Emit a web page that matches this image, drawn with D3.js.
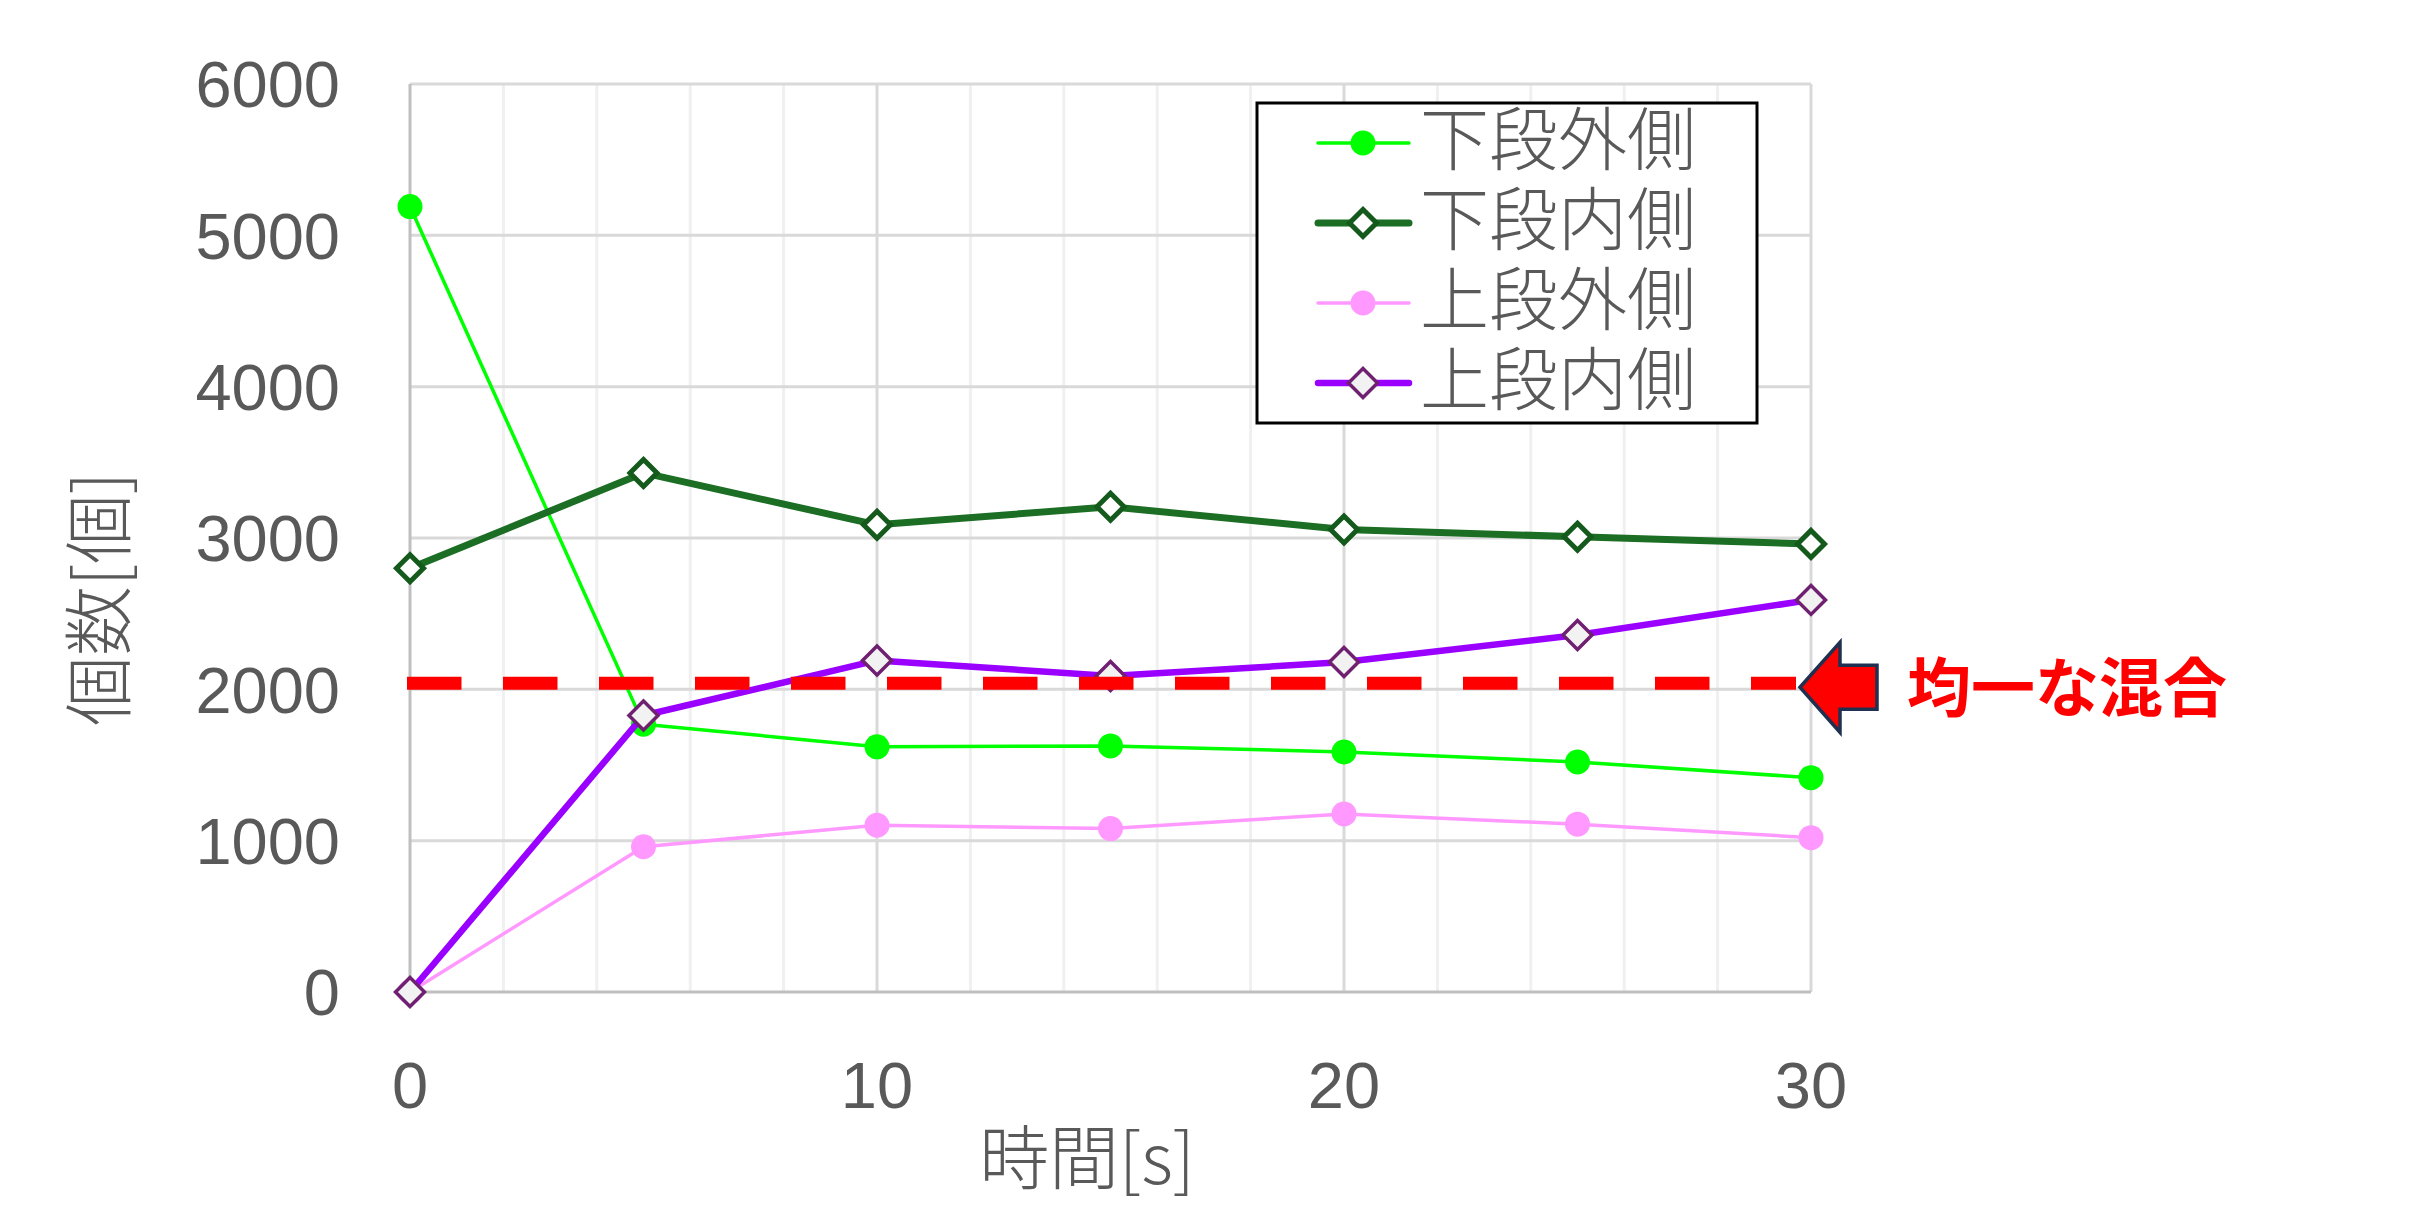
<!DOCTYPE html>
<html lang="ja">
<head>
    <meta charset="UTF-8">
    <title>個数の時間変化</title>
    <script src="https://d3js.org/d3.v7.min.js"></script>
    <style>
        body { margin: 0; background: #fff; }
        .tick-label {
            font-family: "Liberation Sans", Arial, sans-serif;
            font-size: 65px;
            fill: #595959;
        }
        .jp {
            font-family: "Noto Sans CJK JP", sans-serif;
            font-weight: 300;
            fill: #595959;
        }
        .note {
            font-family: "Noto Sans CJK JP", sans-serif;
            font-weight: bold;
            font-size: 64px;
            fill: #ff0000;
        }
    </style>
</head>
<body>
    <svg width="2435" height="1223"></svg>
    <script>
        // 時間[s]
        const times = [0, 5, 10, 15, 20, 25, 30];
        const seriesNames = ["下段外側", "下段内側", "上段外側", "上段内側"];
        const lowerOuter = [5190, 1770, 1620, 1626, 1586, 1520, 1416];
        const lowerInner = [2800, 3430, 3087, 3206, 3056, 3008, 2961];
        const upperOuter = [0, 960, 1102, 1080, 1177, 1109, 1020];
        const upperInner = [0, 1827, 2191, 2088, 2180, 2359, 2591];
        const uniformValue = 2040;
        const uniformLabel = "均一な混合";
        const yTicks = [0, 1000, 2000, 3000, 4000, 5000, 6000];
        const xTicks = [0, 10, 20, 30];

        const styles = [
            { line: "#00ff00", width: 3.5, shape: "circle", fill: "#00ff00", stroke: "none", sw: 0 },
            { line: "#1b6e24", width: 7, shape: "diamond", fill: "#ffffff", stroke: "#155a1d", sw: 5 },
            { line: "#ff99ff", width: 3.5, shape: "circle", fill: "#ff99ff", stroke: "none", sw: 0 },
            { line: "#9900ff", width: 6.5, shape: "diamond", fill: "#f2f2f2", stroke: "#702070", sw: 3.5 }
        ];
        const allValues = [lowerOuter, lowerInner, upperOuter, upperInner];

        const svg = d3.select("svg");
        const x = d3.scaleLinear().domain([0, 30]).range([410, 1811]);
        const y = d3.scaleLinear().domain([0, 6000]).range([992, 84]);

        // gridlines
        const grid = svg.append("g");
        grid.selectAll(".minor")
            .data(d3.range(2, 30, 2).filter(d => d % 10 !== 0))
            .enter().append("line")
            .attr("x1", d => x(d)).attr("x2", d => x(d))
            .attr("y1", y(0)).attr("y2", y(6000))
            .attr("stroke", "#f0f0f0").attr("stroke-width", 3);
        grid.selectAll(".majorx")
            .data([10, 20, 30])
            .enter().append("line")
            .attr("x1", d => x(d)).attr("x2", d => x(d))
            .attr("y1", y(0)).attr("y2", y(6000))
            .attr("stroke", "#d9d9d9").attr("stroke-width", 3);
        grid.selectAll(".majory")
            .data(yTicks.slice(1))
            .enter().append("line")
            .attr("x1", x(0)).attr("x2", x(30))
            .attr("y1", d => y(d)).attr("y2", d => y(d))
            .attr("stroke", "#d9d9d9").attr("stroke-width", 3);
        // axis lines
        grid.append("line")
            .attr("x1", x(0)).attr("x2", x(0)).attr("y1", y(0)).attr("y2", y(6000))
            .attr("stroke", "#bfbfbf").attr("stroke-width", 3);
        grid.append("line")
            .attr("x1", x(0)).attr("x2", x(30)).attr("y1", y(0)).attr("y2", y(0))
            .attr("stroke", "#bfbfbf").attr("stroke-width", 3);

        // tick labels
        svg.selectAll(".ylab")
            .data(yTicks)
            .enter().append("text")
            .attr("class", "tick-label")
            .attr("x", 340)
            .attr("y", d => y(d))
            .attr("dy", "0.36em")
            .attr("text-anchor", "end")
            .text(d => d);
        svg.selectAll(".xlab")
            .data(xTicks)
            .enter().append("text")
            .attr("class", "tick-label")
            .attr("x", d => x(d))
            .attr("y", 1085)
            .attr("dy", "0.36em")
            .attr("text-anchor", "middle")
            .text(d => d);

        // axis titles
        svg.append("text")
            .attr("class", "jp")
            .attr("x", 1087)
            .attr("y", 1153)
            .attr("dominant-baseline", "central")
            .attr("text-anchor", "middle")
            .style("font-size", "70px")
            .text("時間[s]");
        svg.append("text")
            .attr("class", "jp")
            .attr("transform", "translate(94,599) rotate(-90)")
            .attr("dominant-baseline", "central")
            .attr("text-anchor", "middle")
            .style("font-size", "70px")
            .text("個数[個]");

        const diamond = r => `M0,${-r}L${r},0L0,${r}L${-r},0Z`;

        function drawMarker(g, st) {
            if (st.shape === "circle") {
                g.append("circle").attr("r", 12.5).attr("fill", st.fill);
            } else {
                const r = st.sw > 4 ? 13.5 : 14.5;
                g.append("path").attr("d", diamond(r))
                    .attr("fill", st.fill)
                    .attr("stroke", st.stroke)
                    .attr("stroke-width", st.sw)
                    .attr("stroke-linejoin", "miter");
            }
        }

        // series
        const line = d3.line()
            .x((d, i) => x(times[i]))
            .y(d => y(d));
        allValues.forEach((vals, k) => {
            const st = styles[k];
            const g = svg.append("g");
            g.append("path")
                .attr("d", line(vals))
                .attr("fill", "none")
                .attr("stroke", st.line)
                .attr("stroke-width", st.width)
                .attr("stroke-linejoin", "round");
            vals.forEach((v, i) => {
                const m = g.append("g").attr("transform", `translate(${x(times[i])},${y(v)})`);
                drawMarker(m, st);
            });
        });

        // uniform mixing line
        svg.append("line")
            .attr("x1", x(0) - 3)
            .attr("x2", x(30) - 15)
            .attr("y1", y(uniformValue))
            .attr("y2", y(uniformValue))
            .attr("stroke", "#ff0000")
            .attr("stroke-width", 13)
            .attr("stroke-dasharray", "54.5 41.5");

        // arrow
        const ax = x(30) - 11, ay = y(uniformValue) + 4;
        svg.append("path")
            .attr("d", `M${ax},${ay}L${ax + 40},${ay - 45}L${ax + 40},${ay - 22}L${ax + 77},${ay - 22}L${ax + 77},${ay + 22}L${ax + 40},${ay + 22}L${ax + 40},${ay + 45}Z`)
            .attr("fill", "#ff0000")
            .attr("stroke", "#1f3050")
            .attr("stroke-width", 3.5)
            .attr("stroke-linejoin", "miter");
        svg.append("text")
            .attr("class", "note")
            .attr("x", 1907)
            .attr("y", ay - 4)
            .attr("dominant-baseline", "central")
            .text(uniformLabel);

        // legend
        const legend = svg.append("g");
        legend.append("rect")
            .attr("x", 1257).attr("y", 103)
            .attr("width", 500).attr("height", 320)
            .attr("fill", "#fff")
            .attr("stroke", "#000")
            .attr("stroke-width", 3);
        seriesNames.forEach((name, k) => {
            const st = styles[k];
            const cy = 143 + k * 80;
            legend.append("line")
                .attr("x1", 1318).attr("x2", 1409)
                .attr("y1", cy).attr("y2", cy)
                .attr("stroke", st.line)
                .attr("stroke-width", st.width)
                .attr("stroke-linecap", "round");
            drawMarker(legend.append("g").attr("transform", `translate(1363,${cy})`), st);
            legend.append("text")
                .attr("class", "jp")
                .attr("x", 1420)
                .attr("y", cy - 8)
                .attr("dominant-baseline", "central")
                .style("font-size", "69px")
                .text(name);
        });
    </script>
</body>
</html>
